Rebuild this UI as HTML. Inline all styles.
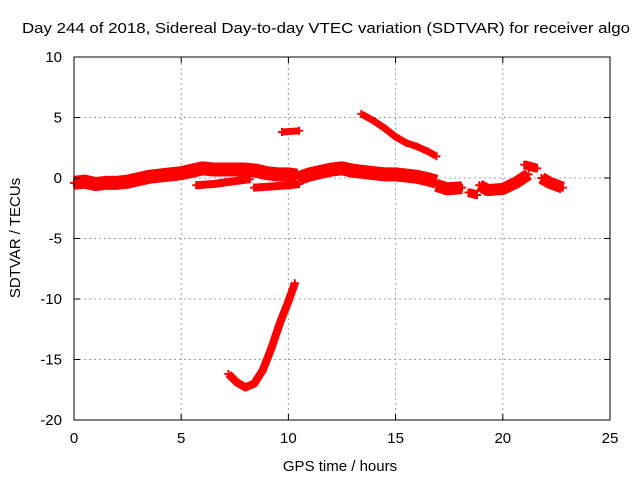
<!DOCTYPE html>
<html><head><meta charset="utf-8"><style>
body{margin:0;background:#fff}
svg{display:block;font-family:"Liberation Sans",sans-serif}
</style></head><body>
<svg id="chart" width="640" height="480" viewBox="0 0 640 480">
<rect width="640" height="480" fill="#fff"/>
<text x="22" y="33" font-size="15" textLength="608" lengthAdjust="spacingAndGlyphs">Day 244 of 2018, Sidereal Day-to-day VTEC variation (SDTVAR) for receiver algo</text>
<g id="grid"></g>
<g id="series"></g>
<rect x="74" y="57" width="536" height="363" fill="none" stroke="#000" stroke-width="1"/>
<g id="axes"></g>
<text x="340" y="471" font-size="15" text-anchor="middle">GPS time / hours</text>
<text transform="translate(20,238) rotate(-90)" font-size="15" text-anchor="middle">SDTVAR / TECUs</text>
</svg>
<script>
const xTicks=[0,5,10,15,20,25];
const yTicks=[10,5,0,-5,-10,-15,-20];
const mainBandA=[[0,-0.4],[0.5,-0.3],[1,-0.5],[1.5,-0.4],[2,-0.4],[2.5,-0.3],[3,-0.1],[3.5,0.1],[4,0.2],[4.5,0.3],[5,0.4],[5.5,0.6],[6,0.8],[6.5,0.7],[7,0.7],[7.5,0.7],[8,0.7],[8.5,0.6],[9,0.4],[9.5,0.3],[10,0.3],[10.4,0.2]];
const mainBandB=[[10.5,0],[11,0.3],[11.5,0.5],[12,0.7],[12.5,0.8],[13,0.6],[13.5,0.5],[14,0.4],[14.5,0.3],[15,0.3],[15.5,0.2],[16,0.1],[16.5,-0.1],[16.9,-0.3]];
const lowerBranch1=[[5.7,-0.6],[6.5,-0.5],[7.3,-0.3],[8.2,-0.1]];
const lowerBranch2=[[8.4,-0.8],[9.2,-0.7],[10,-0.6],[10.5,-0.5]];
const blockRight1=[[16.9,-0.6],[17.4,-0.9],[18.1,-0.8]];
const blockRight2=[[18.4,-1.2],[18.8,-1.4]];
const blockRight3=[[18.9,-0.6],[19.3,-1.0],[20,-0.9],[20.6,-0.4],[21.2,0.3]];
const blockRight4=[[21.0,1.1],[21.6,0.8]];
const blockRight5=[[21.8,0],[22.2,-0.4],[22.8,-0.8]];
const isolated=[[9.7,3.8],[10.5,3.9]];
const diagonal=[[13.4,5.3],[14,4.7],[14.5,4.1],[15,3.4],[15.5,2.9],[16,2.6],[16.5,2.2],[16.9,1.8]];
const dip=[[7.2,-16.2],[7.6,-16.9],[8,-17.3],[8.4,-17.0],[8.8,-15.9],[9.2,-14.1],[9.6,-12.0],[10,-10.2],[10.3,-8.7]];
const seriesList=[mainBandA,mainBandB,lowerBranch1,lowerBranch2,blockRight1,blockRight2,blockRight3,blockRight4,blockRight5,isolated,diagonal,dip];
const seriesNames=['main-band-a','main-band-b','lower-branch-1','lower-branch-2','block-right-1','block-right-2','block-right-3','block-right-4','block-right-5','isolated-segment','diagonal-segment','dip-segment'];
const widths=[14,14,8,8,13,9,12,9,12,7,7,8];

const NS='http://www.w3.org/2000/svg';
const X0=74,X1=610,Y0=420,Y1=57;
const xs=v=>X0+(v-0)/(25-0)*(X1-X0);
const ys=v=>Y0-(v+20)/30*(Y0-Y1);
function mk(t,a,p){const e=document.createElementNS(NS,t);for(const k in a)e.setAttribute(k,a[k]);p.appendChild(e);return e;}
const grid=document.getElementById('grid'),axes=document.getElementById('axes'),ser=document.getElementById('series');
xTicks.forEach(t=>{
  const x=xs(t);
  if(t>0&&t<25){const l=mk('line',{x1:x,y1:Y0,x2:x,y2:Y1,stroke:'#a0a0a0','stroke-dasharray':'2,3'},grid);
  }
  mk('line',{x1:x,y1:Y0,x2:x,y2:Y0-6,stroke:'#000'},axes);
  mk('line',{x1:x,y1:Y1,x2:x,y2:Y1+6,stroke:'#000'},axes);
  const tx=mk('text',{x:x,y:443,'font-size':15,'text-anchor':'middle'},axes);tx.textContent=t;
  
});
yTicks.forEach(t=>{
  const y=ys(t);
  if(t<10&&t>-20){const l=mk('line',{x1:X0,y1:y,x2:X1,y2:y,stroke:'#a0a0a0','stroke-dasharray':'2,3'},grid);
  }
  mk('line',{x1:X0,y1:y,x2:X0+6,y2:y,stroke:'#000'},axes);
  mk('line',{x1:X1,y1:y,x2:X1-6,y2:y,stroke:'#000'},axes);
  const tx=mk('text',{x:62,y:y+5,'font-size':15,'text-anchor':'end'},axes);tx.textContent=t;
  
});
seriesList.forEach((s,i)=>{
  const g=mk('g',{},ser);
  
  
  mk('polyline',{points:s.map(p=>xs(p[0])+','+ys(p[1])).join(' '),fill:'none',stroke:'#f00','stroke-width':widths[i],'stroke-linejoin':'round','stroke-linecap':'butt'},g);
  s.forEach(p=>{const x=xs(p[0]),y=ys(p[1]);
    mk('path',{d:`M${x-4},${y}h8M${x},${y-4}v8`,stroke:'#f00','stroke-width':2},g);});
});
</script>
</body></html>
